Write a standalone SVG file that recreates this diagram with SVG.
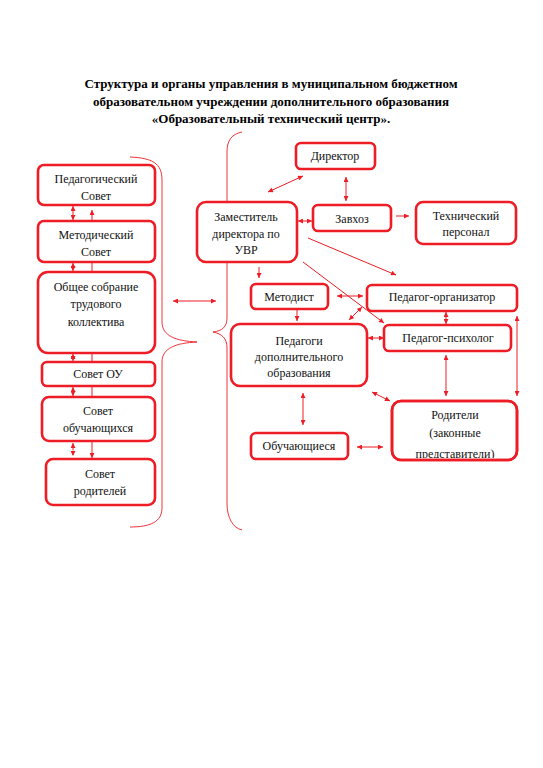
<svg xmlns="http://www.w3.org/2000/svg" width="543" height="768" viewBox="0 0 543 768">
<style>
.bx{fill:#fff;stroke:#ee1c24;stroke-width:2.6}
.t{font-family:"Liberation Serif","Times New Roman","DejaVu Serif",serif;font-size:12px;fill:#111;text-anchor:middle}
.ttl{font-family:"Liberation Serif","Times New Roman","DejaVu Serif",serif;font-size:13px;font-weight:bold;fill:#000;text-anchor:middle}
.c{fill:none;stroke:#ee1c24;stroke-width:1}
.ar{marker-end:url(#ah)}
.da{marker-start:url(#ah);marker-end:url(#ah)}
.br{fill:none;stroke:#ee1c24;stroke-width:0.9}
</style>
<defs>
<marker id="ah" viewBox="0 0 10 10" refX="10" refY="5" markerWidth="6" markerHeight="5" markerUnits="userSpaceOnUse" orient="auto-start-reverse">
<path d="M0,0 L10,5 L0,10 z" fill="#ee1c24"/>
</marker>
<clipPath id="clipRod"><rect x="392" y="401" width="125" height="57"/></clipPath>
</defs>
<rect width="543" height="768" fill="#fff"/>
<g id="title">
<text class="ttl" x="271" y="88">Структура и органы управления в муниципальном бюджетном</text>
<text class="ttl" x="271" y="106">образовательном учреждении дополнительного образования</text>
<text class="ttl" x="271" y="123">«Образовательный технический центр».</text>
</g>
<g id="connectors">
<path class="br" d="M130,157 C152,158 162,163 162,180 L162,322 C162,336 176,341 197,342 C176,343 162,348 162,362 L162,508 C162,522 150,527 130,527"/>
<path class="br" d="M242,132 C232,134 227,140 227,152 L227,318 C227,327 222,331 213,332 C222,334 227,338 227,348 L227,503 C227,518 233,528 242,530"/>
<line class="c da" x1="173" y1="301" x2="216" y2="301"/>
<line class="c da" x1="73" y1="206" x2="73" y2="220"/>
<line class="c ar" x1="92" y1="221" x2="92" y2="210"/>
<line class="c da" x1="73" y1="263" x2="73" y2="271"/>
<line class="c" x1="92" y1="262" x2="92" y2="272"/>
<line class="c da" x1="73" y1="354" x2="73" y2="361"/>
<line class="c" x1="92" y1="353" x2="92" y2="362"/>
<line class="c da" x1="73" y1="387" x2="73" y2="396"/>
<line class="c" x1="92" y1="386" x2="92" y2="397"/>
<line class="c da" x1="73" y1="443" x2="73" y2="456" stroke-dasharray="3,1.5"/>
<line class="c ar" x1="92" y1="441" x2="92" y2="458"/>
<line class="c da" x1="268" y1="192" x2="303" y2="176"/>
<line class="c da" x1="346" y1="177" x2="346" y2="201"/>
<line class="c da" x1="298" y1="221" x2="312" y2="221"/>
<line class="c ar" x1="396" y1="216" x2="409" y2="216"/>
<line class="c ar" x1="308" y1="238" x2="396" y2="275"/>
<line class="c ar" x1="303" y1="262" x2="384" y2="323"/>
<line class="c ar" x1="259" y1="267" x2="259" y2="278"/>
<line class="c ar" x1="297" y1="309" x2="297" y2="321"/>
<line class="c da" x1="337" y1="296" x2="363" y2="296"/>
<line class="c da" x1="349" y1="320" x2="362" y2="307"/>
<line class="c da" x1="368" y1="338" x2="384" y2="338"/>
<line class="c da" x1="446" y1="312" x2="446" y2="324"/>
<line class="c da" x1="446" y1="355" x2="446" y2="396"/>
<line class="c da" x1="517" y1="316" x2="517" y2="396"/>
<line class="c da" x1="372" y1="392" x2="390" y2="401"/>
<line class="c da" x1="303" y1="393" x2="303" y2="425"/>
<line class="c da" x1="357" y1="447" x2="383" y2="447"/>
</g>
<g id="n-ped-sovet"><rect class="bx" x="38" y="165" width="117" height="40" rx="6"/><text class="t" x="96" y="183">Педагогический</text><text class="t" x="96" y="200">Совет</text></g>
<g id="n-met-sovet"><rect class="bx" x="38" y="221" width="117" height="41" rx="6"/><text class="t" x="96" y="239">Методический</text><text class="t" x="96" y="256">Совет</text></g>
<g id="n-obshee"><rect class="bx" x="38" y="272" width="117" height="81" rx="10"/><text class="t" x="96" y="291">Общее собрание</text><text class="t" x="96" y="308">трудового</text><text class="t" x="96" y="326">коллектива</text></g>
<g id="n-sovet-ou"><rect class="bx" x="42" y="362" width="113" height="24" rx="5"/><text class="t" x="98" y="378">Совет ОУ</text></g>
<g id="n-sovet-obuch"><rect class="bx" x="42" y="397" width="113" height="44" rx="7"/><text class="t" x="98" y="415">Совет</text><text class="t" x="98" y="432">обучающихся</text></g>
<g id="n-sovet-rod"><rect class="bx" x="46" y="459" width="109" height="46" rx="7"/><text class="t" x="100" y="478">Совет</text><text class="t" x="100" y="495">родителей</text></g>
<g id="n-director"><rect class="bx" x="296" y="143" width="79" height="26" rx="5"/><text class="t" x="335" y="160">Директор</text></g>
<g id="n-zam"><rect class="bx" x="197" y="202" width="100" height="60" rx="9"/><text class="t" x="246" y="221">Заместитель</text><text class="t" x="246" y="238">директора по</text><text class="t" x="246" y="254">УВР</text></g>
<g id="n-zavhoz"><rect class="bx" x="313" y="205" width="78" height="26" rx="5"/><text class="t" x="352" y="223">Завхоз</text></g>
<g id="n-tech"><rect class="bx" x="416" y="202" width="100" height="42" rx="7"/><text class="t" x="466" y="220">Технический</text><text class="t" x="466" y="236">персонал</text></g>
<g id="n-metodist"><rect class="bx" x="251" y="284" width="77" height="25" rx="5"/><text class="t" x="289" y="301">Методист</text></g>
<g id="n-ped-org"><rect class="bx" x="367" y="285" width="150" height="26" rx="5"/><text class="t" x="442" y="301">Педагог-организатор</text></g>
<g id="n-ped-psy"><rect class="bx" x="384" y="325" width="127" height="26" rx="5"/><text class="t" x="448" y="342">Педагог-психолог</text></g>
<g id="n-pedagogi"><rect class="bx" x="231" y="324" width="136" height="62" rx="9"/><text class="t" x="299" y="345">Педагоги</text><text class="t" x="299" y="361">дополнительного</text><text class="t" x="299" y="377">образования</text></g>
<g id="n-roditeli"><rect class="bx" x="392" y="401" width="125" height="59" rx="9"/><g clip-path="url(#clipRod)"><text class="t" x="455" y="419">Родители</text><text class="t" x="455" y="437">(законные</text><text class="t" x="455" y="458">представители)</text></g><rect x="392" y="401" width="125" height="59" rx="9" fill="none" stroke="#ee1c24" stroke-width="2.6"/></g>
<g id="n-obuch"><rect class="bx" x="251" y="433" width="97" height="26" rx="5"/><text class="t" x="299" y="450">Обучающиеся</text></g>
</svg>
